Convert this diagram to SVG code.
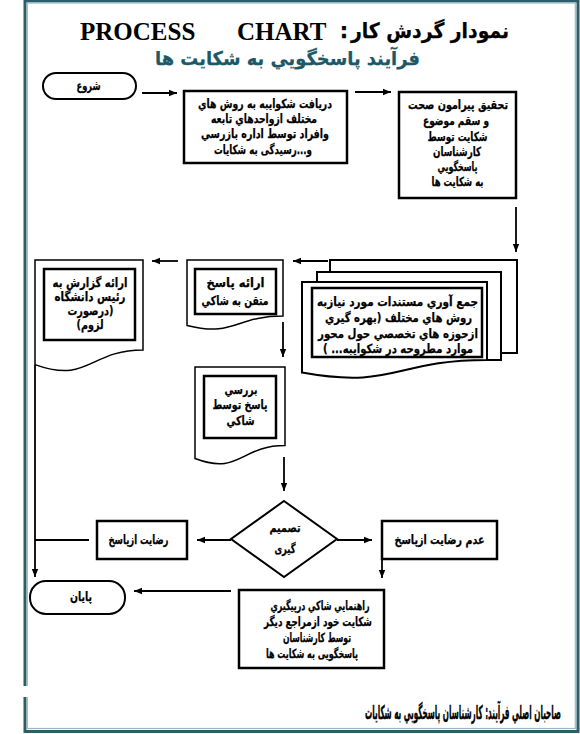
<svg xmlns="http://www.w3.org/2000/svg" width="580" height="734" viewBox="0 0 580 734">
<style>
.fa{font-family:"DejaVu Sans","Noto Sans",sans-serif;font-weight:bold;font-size:12.5px;fill:#000;stroke:#000;stroke-width:0.25;text-anchor:middle;direction:rtl;unicode-bidi:embed}
.box{fill:#fff;stroke:#000;stroke-width:2.5}
.doc{fill:#fff;stroke:#000;stroke-width:1.5}
.term{fill:#fff;stroke:#000;stroke-width:2}
.ln{fill:none;stroke:#000;stroke-width:1.8}
.arr{fill:none;stroke:#000;stroke-width:1.8;marker-end:url(#ah)}
</style>
<defs>
<marker id="ah" viewBox="0 0 10 10" refX="10" refY="5" markerWidth="8" markerHeight="8" orient="auto" markerUnits="userSpaceOnUse"><path d="M0,1 L10,5 L0,9 z" fill="#000"/></marker>
</defs>
<rect x="0" y="0" width="580" height="734" fill="#fff"/>
<rect x="25" y="1" width="553" height="730.5" fill="#fff" stroke="#2b5d6b" stroke-width="3"/>
<rect x="27.3" y="3" width="548" height="725.5" fill="none" stroke="#9ab8c2" stroke-width="1.2"/>
<rect x="16" y="686" width="14" height="11" fill="#fff"/>

<g id="title">
<text x="80" y="40" font-family="Liberation Serif" font-weight="bold" font-size="25">PROCESS</text>
<text x="237" y="40" font-family="Liberation Serif" font-weight="bold" font-size="25">CHART</text>
<text x="344" y="38" class="fa" style="font-size:21px">:</text>
<text x="430" y="38" class="fa" style="font-size:21px" textLength="158" lengthAdjust="spacingAndGlyphs">نمودار گردش کار</text>
<text x="287.5" y="65" class="fa" style="font-size:19px;fill:#1d5868;stroke:#1d5868" textLength="265" lengthAdjust="spacingAndGlyphs">فرآيند پاسخگويي به شكايت ها</text>
</g>

<g id="connectors">
<line class="arr" x1="142" y1="93" x2="177" y2="93"/>
<line class="arr" x1="355" y1="92" x2="391" y2="92"/>
<line class="arr" x1="516" y1="207" x2="516" y2="252"/>
<line class="arr" x1="328" y1="261" x2="293" y2="261"/>
<line class="arr" x1="178" y1="261" x2="152" y2="261"/>
<line class="arr" x1="283" y1="322" x2="283" y2="357"/>
<line class="arr" x1="284" y1="457" x2="284" y2="491"/>
<line class="arr" x1="231" y1="540" x2="197" y2="540"/>
<line class="arr" x1="337" y1="540" x2="372" y2="540"/>
<line class="ln" x1="89" y1="540" x2="35" y2="540"/>
<line class="arr" x1="35" y1="365" x2="35" y2="577"/>
<line class="arr" x1="382" y1="560" x2="382" y2="578"/>
<line class="arr" x1="231" y1="591" x2="134" y2="591"/>
</g>

<g id="start">
<rect class="term" x="43" y="73" width="93" height="26" rx="13"/>
<text class="fa" x="88.5" y="90" textLength="24" lengthAdjust="spacingAndGlyphs">شروع</text>
</g>

<g id="receive">
<rect class="box" x="184" y="91" width="163" height="72"/>
<text class="fa" x="265" y="108" textLength="134" lengthAdjust="spacingAndGlyphs">دريافت شكوايبه به روش هاي</text>
<text class="fa" x="264" y="123" textLength="106" lengthAdjust="spacingAndGlyphs">مختلف ازواحدهاي تابعه</text>
<text class="fa" x="265" y="138" textLength="128" lengthAdjust="spacingAndGlyphs">وافراد توسط اداره بازرسي</text>
<text class="fa" x="263" y="154" textLength="98" lengthAdjust="spacingAndGlyphs">و...رسيدگی به شكايات</text>
</g>

<g id="investigate">
<rect class="box" x="399" y="92" width="117" height="106"/>
<text class="fa" x="458" y="109" textLength="100" lengthAdjust="spacingAndGlyphs">تحقيق پيرامون صحت</text>
<text class="fa" x="456" y="125" textLength="66" lengthAdjust="spacingAndGlyphs">و سقم موضوع</text>
<text class="fa" x="457.5" y="141" textLength="60" lengthAdjust="spacingAndGlyphs">شكايت توسط</text>
<text class="fa" x="457" y="156" textLength="48" lengthAdjust="spacingAndGlyphs">كارشناسان</text>
<text class="fa" x="457.5" y="171" textLength="40" lengthAdjust="spacingAndGlyphs">پاسخگويي</text>
<text class="fa" x="457.5" y="186" textLength="52" lengthAdjust="spacingAndGlyphs">به شكايت ها</text>
</g>

<g id="collect">
<rect x="330" y="260" width="187" height="93" fill="#fff" stroke="#000" stroke-width="2"/>
<rect x="317" y="272" width="184" height="88" fill="#fff" stroke="#000" stroke-width="2"/>
<path d="M302,282 H487 V360 C394.5,360 394.5,389.4 302,372.6 Z" fill="#fff" stroke="#000" stroke-width="2"/>
<rect class="box" x="312" y="288" width="170" height="69"/>
<text class="fa" x="397.5" y="306" textLength="161" lengthAdjust="spacingAndGlyphs">جمع آوري مستندات مورد نيازبه</text>
<text class="fa" x="398.5" y="322" textLength="147" lengthAdjust="spacingAndGlyphs">روش هاي مختلف (بهره گيري</text>
<text class="fa" x="398" y="338" textLength="160" lengthAdjust="spacingAndGlyphs">ازحوزه هاي تخصصي حول محور</text>
<text class="fa" x="398" y="353" textLength="150" lengthAdjust="spacingAndGlyphs">موارد مطروحه در شكوايبه... )</text>
</g>

<g id="answer">
<path class="doc" d="M187,260 H283 V316 C235,316 235,337.5 187,325.4 Z"/>
<rect class="box" x="195" y="269" width="81" height="45"/>
<text class="fa" x="235.5" y="287" textLength="58" lengthAdjust="spacingAndGlyphs">ارائه پاسخ</text>
<text class="fa" x="235" y="305" textLength="67" lengthAdjust="spacingAndGlyphs">متقن به شاكي</text>
</g>

<g id="report">
<path class="doc" d="M35,260 H143 V350 C89,350 89,384 35,364.6 Z"/>
<rect class="box" x="44" y="269" width="91" height="71"/>
<text class="fa" x="90" y="287" textLength="75" lengthAdjust="spacingAndGlyphs">ارائه گزارش به</text>
<text class="fa" x="90" y="301" textLength="71" lengthAdjust="spacingAndGlyphs">رئيس دانشگاه</text>
<text class="fa" x="90.5" y="315" textLength="46" lengthAdjust="spacingAndGlyphs">(درصورت</text>
<text class="fa" x="90" y="329" textLength="27" lengthAdjust="spacingAndGlyphs">لزوم)</text>
</g>

<g id="review">
<path class="doc" d="M195,367 H285 V445.6 C240,445.6 240,475.5 195,458.5 Z"/>
<rect class="box" x="204" y="376" width="72" height="62"/>
<text class="fa" x="241" y="394" textLength="33" lengthAdjust="spacingAndGlyphs">بررسي</text>
<text class="fa" x="240" y="409" textLength="55" lengthAdjust="spacingAndGlyphs">پاسخ توسط</text>
<text class="fa" x="240.5" y="425" textLength="28" lengthAdjust="spacingAndGlyphs">شاكي</text>
</g>

<g id="decision">
<polygon points="284,501 337,539 284,577 231,539" fill="#fff" stroke="#000" stroke-width="2"/>
<text class="fa" x="285" y="532" textLength="31" lengthAdjust="spacingAndGlyphs">تصميم</text>
<text class="fa" x="285" y="553" textLength="21" lengthAdjust="spacingAndGlyphs">گيری</text>
</g>

<g id="satisfied">
<rect class="box" x="97" y="521" width="90" height="38"/>
<text class="fa" x="138.5" y="544" textLength="60" lengthAdjust="spacingAndGlyphs">رضايت ازپاسخ</text>
</g>

<g id="unsatisfied">
<rect class="box" x="382" y="521" width="115" height="38"/>
<text class="fa" x="439.5" y="544" textLength="90" lengthAdjust="spacingAndGlyphs">عدم رضايت ازپاسخ</text>
</g>

<g id="guide">
<rect class="box" x="239" y="590" width="145" height="78"/>
<text class="fa" x="320" y="610" textLength="99" lengthAdjust="spacingAndGlyphs">راهنمايي شاكي درپيگيري</text>
<text class="fa" x="318" y="626" textLength="108" lengthAdjust="spacingAndGlyphs">شكايت خود ازمراجع ديگر</text>
<text class="fa" x="317" y="642" textLength="68" lengthAdjust="spacingAndGlyphs">توسط كارشناسان</text>
<text class="fa" x="312" y="658" textLength="92" lengthAdjust="spacingAndGlyphs">پاسخگويی به شكايت ها</text>
</g>

<g id="end">
<rect class="term" x="30" y="581" width="95" height="33" rx="16"/>
<text class="fa" x="81" y="601" textLength="22" lengthAdjust="spacingAndGlyphs">پايان</text>
</g>

<g id="footer">
<text transform="translate(365,719) scale(1,1.9)" x="0" y="0" font-family="DejaVu Sans, sans-serif" font-weight="bold" font-size="10" stroke="#000" stroke-width="0.2" textLength="196" lengthAdjust="spacingAndGlyphs">صاحبان اصلي فرآيند: كارشناسان پاسخگويي به شكايات</text>
</g>
</svg>
